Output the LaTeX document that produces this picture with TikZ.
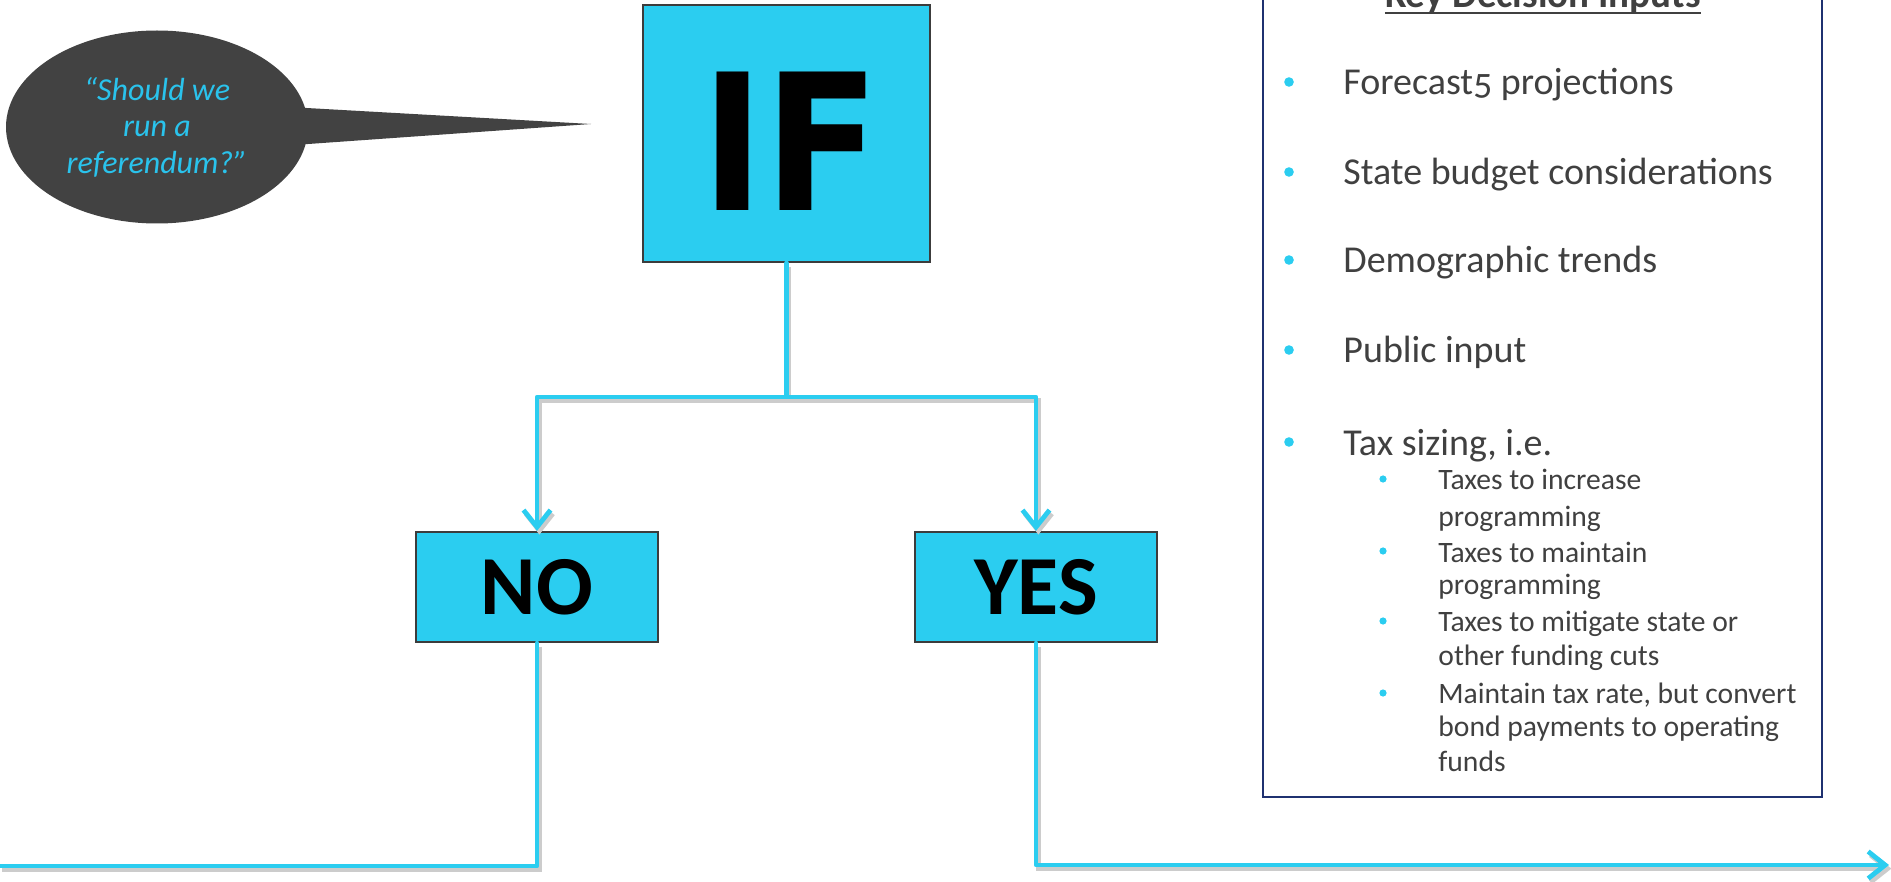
\documentclass[tikz,border=0pt]{standalone}
\usepackage{fontspec}
\setmainfont{Carlito}
\newfontfamily\iffont{DejaVu Sans}
\newfontfamily\oldnum[Numbers=OldStyle]{Carlito}
\usetikzlibrary{shapes.geometric, arrows.meta}
\definecolor{cyanbox}{HTML}{2BCDF0}
\definecolor{linecyan}{HTML}{2BCDF0}
\definecolor{edgegray}{HTML}{3C3C3C}
\definecolor{bubblegray}{HTML}{424242}
\definecolor{textgray}{HTML}{404040}
\definecolor{navy}{HTML}{1F3170}
\definecolor{quotecyan}{HTML}{2AC3EC}
\begin{document}
\begin{tikzpicture}[x=0.5pt,y=-0.5pt,
  decision/.style={rectangle, fill=cyanbox, draw=edgegray, line width=1.1pt, inner sep=0pt},
  conn/.style={draw=linecyan, line width=2.4pt, line cap=round, line join=round,
    preaction={draw=black!20, line width=2.4pt, transform canvas={shift={(1.2pt,-1.8pt)}}}},
  barb/.style={-{Straight Barb[length=8.5pt,width=13.5pt]}},
  keytext/.style={anchor=base west, inner sep=0pt, text=textgray, font=\fontsize{19}{22}\selectfont},
  subtext/.style={anchor=base west, inner sep=0pt, text=textgray, font=\fontsize{14.8}{17.5}\selectfont},
  dot/.style={fill=cyanbox},
]
\useasboundingbox (0,0) rectangle (1891,882);
\clip (0,0) rectangle (1891,882);

% speech bubble
\coordinate (tip) at (591,124);
\fill[bubblegray] (280,106.5) -- (tip) -- (280,146) -- cycle;
\node[ellipse, fill=bubblegray, minimum width=151pt, minimum height=96.5pt, inner sep=0pt,
  align=center, text=quotecyan, font=\itshape\fontsize{16}{18.25}\selectfont]
  (bubble) at (157,127) {“Should we\\run a\\referendum?”};

% decision boxes
\node[decision, minimum width=143.5pt, minimum height=128.5pt,
  font=\iffont\bfseries\fontsize{95}{95}\selectfont, text height=77pt, text depth=0pt]
  (IF) at (786.5,133.5) {\hspace*{4pt}\scalebox{0.89}[1]{IF}};
\node[decision, minimum width=121pt, minimum height=55pt,
  font=\bfseries\fontsize{42}{42}\selectfont] (NO) at (537,587) {NO};
\node[decision, minimum width=121pt, minimum height=55pt,
  font=\bfseries\fontsize{42}{42}\selectfont] (YES) at (1036,587) {YES};

% key decision inputs box
\node[draw=navy, line width=1pt, minimum width=279.5pt, minimum height=403.5pt, inner sep=0pt]
  (keybox) at (1542.5,393.5) {};
\node[anchor=base, inner sep=0pt, text=textgray, font=\bfseries\fontsize{19.5}{22}\selectfont]
  (title) at (1543,8) {Key Decision Inputs};
\draw[textgray, line width=1.3pt] ([yshift=-2.5pt]title.base west) -- ([yshift=-2.5pt]title.base east);

\fill[dot] (1289,82) circle[radius=2.4pt];
\node[keytext] (k1) at (1343,95) {Forecast{\oldnum 5} projections};
\fill[dot] (1289,172) circle[radius=2.4pt];
\node[keytext] (k2) at (1343,185) {State budget considerations};
\fill[dot] (1289,260) circle[radius=2.4pt];
\node[keytext] (k3) at (1343,273) {Demographic trends};
\fill[dot] (1289,350) circle[radius=2.4pt];
\node[keytext] (k4) at (1343,363) {Public input};
\fill[dot] (1289,442) circle[radius=2.4pt];
\node[keytext] (k5) at (1343,455) {Tax sizing, i.e.};

\fill[dot] (1383,479) circle[radius=1.8pt];
\node[subtext] (s1) at (1438,489) {Taxes to increase};
\node[subtext] (s2) at (1438,526) {programming};
\fill[dot] (1383,551) circle[radius=1.8pt];
\node[subtext] (s3) at (1438,562) {Taxes to maintain};
\node[subtext] (s4) at (1438,594) {programming};
\fill[dot] (1383,621) circle[radius=1.8pt];
\node[subtext] (s5) at (1438,631) {Taxes to mitigate state or};
\node[subtext] (s6) at (1438,665) {other funding cuts};
\fill[dot] (1383,693) circle[radius=1.8pt];
\node[subtext] (s7) at (1438,703) {Maintain tax rate, but convert};
\node[subtext] (s8) at (1438,736) {bond payments to operating};
\node[subtext] (s9) at (1438,771) {funds};

% connectors
\coordinate (split) at (786.5,397);
\coordinate (noend) at (0,866);
\coordinate (yesend) at (1889,865);
\draw[conn] (IF.south) -- (split);
\draw[conn, barb] (split) -| (NO.north);
\draw[conn, barb] (split) -| (YES.north);
\draw[conn] (NO.south) |- (noend);
\draw[conn, barb] (YES.south) |- (yesend);
\end{tikzpicture}
\end{document}
